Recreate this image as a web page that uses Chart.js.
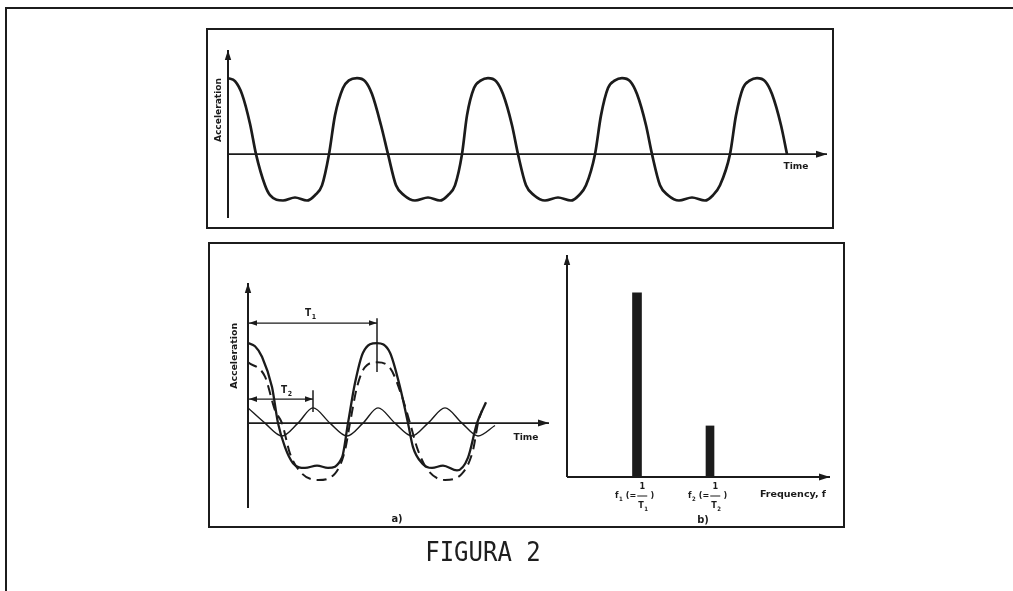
<!DOCTYPE html>
<html>
<head>
<meta charset="utf-8">
<script src="https://cdn.jsdelivr.net/npm/chart.js@4.4.1/dist/chart.umd.min.js"></script>
<style>
  html, body { margin: 0; padding: 0; background: #fff; }
  #stage { position: relative; width: 1013px; height: 591px; overflow: hidden; background: #fff; }
  #stage canvas { position: absolute; left: 0; top: 0; }
  .frame { position: absolute; box-sizing: border-box; border: 2px solid #1c1c1c; }
  #outer { left: 5px; top: 7px; width: 1030px; height: 600px; border-right: none; border-bottom: none; }
  #boxTop { left: 206px; top: 28px; width: 628px; height: 201px; }
  #boxBottom { left: 208px; top: 242px; width: 637px; height: 286px; }
  #figTitle { position: absolute; left: 483px; top: 552px; transform: translate(-50%, -50%) scaleY(1.12);
    font-family: "DejaVu Sans Mono", "Liberation Mono", monospace; font-size: 24px; line-height: 24px; color: #1e1e1e;
    white-space: nowrap; }
</style>
</head>
<body>
<div id="stage">
  <div class="frame" id="outer"></div>
  <div class="frame" id="boxTop"></div>
  <div class="frame" id="boxBottom"></div>
  <canvas id="cTop" width="1013" height="591"></canvas>
  <canvas id="cLeft" width="1013" height="591"></canvas>
  <canvas id="cRight" width="1013" height="591"></canvas>
  <div id="figTitle">FIGURA 2</div>
</div>
<script>
// ---------- Top panel: measured acceleration signal ----------
const topTime = [0,7,14,22,28,37,42,55,67,79,87,94,101,107,115,121,129,
  137,144,153,160,168,176,187,200,212,220,227,234,239,246,253,260,
  268,275,284,290,298,306,317,330,343,351,358,367,373,380,387,394,
  402,409,418,424,432,440,451,464,477,485,492,502,508,515,522,529,
  537,544,553,559];
const topAccel = [1.00,0.96,0.79,0.40,0,-0.41,-0.54,-0.61,-0.57,-0.61,-0.54,-0.41,0,0.51,0.87,0.97,1.00,
  0.96,0.79,0.38,0,-0.41,-0.54,-0.61,-0.57,-0.61,-0.54,-0.41,0,0.51,0.87,0.97,1.00,
  0.96,0.79,0.38,0,-0.41,-0.54,-0.61,-0.57,-0.61,-0.54,-0.41,0,0.51,0.87,0.97,1.00,
  0.96,0.79,0.38,0,-0.41,-0.54,-0.61,-0.57,-0.61,-0.54,-0.41,0,0.51,0.87,0.97,1.00,
  0.96,0.79,0.38,0];

// ---------- Bottom-left panel: decomposition ----------
const sumTime  = [0,7,14,24,30,37,45,57,69,80,94,100,107,115,129,142,152,160,165,174,184,195,209,220,229,238];
const sumAccel = [1.00,0.96,0.83,0.45,0,-0.30,-0.50,-0.56,-0.53,-0.56,-0.43,0,0.50,0.88,1.00,0.88,0.45,0,-0.30,-0.50,-0.56,-0.53,-0.59,-0.43,0,0.26];
const comp1Time  = [0,17,27,34,42,54,70,87,97,102,109,117,129,142,154,162,170,180,197,214,225,230,234];
const comp1Accel = [0.76,0.58,0.16,0,-0.38,-0.63,-0.71,-0.63,-0.34,0,0.45,0.70,0.76,0.69,0.33,0,-0.34,-0.59,-0.71,-0.63,-0.34,0,0.16];
const comp2Time  = [0,17,34,50,65,82,99,115,130,147,164,180,197,214,230,247];
const comp2Accel = [0.19,0,-0.16,0,0.19,0,-0.16,0,0.19,0,-0.16,0,0.19,0,-0.16,-0.03];
const periodT1 = 129;
const periodT2 = 65;

// ---------- Bottom-right panel: spectrum ----------
const freqPositions  = [70, 143];
const freqAmplitudes = [0.83, 0.23];
const freqSubscripts = ['1', '2'];

// ---------- helpers ----------
const INK = '#1b1b1b';
const FONT_FAMILY = '"Liberation Sans Narrow","DejaVu Sans Condensed","Liberation Sans",sans-serif';
function pts(xs, ys) { return xs.map((x, i) => ({ x: x, y: ys[i] })); }

function arrowHead(ctx, x2, y2, ang, len, half) {
  ctx.beginPath();
  ctx.moveTo(x2, y2);
  ctx.lineTo(x2 - len * Math.cos(ang) + half * Math.sin(ang), y2 - len * Math.sin(ang) - half * Math.cos(ang));
  ctx.lineTo(x2 - len * Math.cos(ang) - half * Math.sin(ang), y2 - len * Math.sin(ang) + half * Math.cos(ang));
  ctx.closePath();
  ctx.fill();
}
function arrowLine(ctx, x1, y1, x2, y2, width, len, half, both) {
  ctx.save();
  ctx.strokeStyle = INK; ctx.fillStyle = INK; ctx.lineWidth = width; ctx.lineCap = 'butt';
  const a = Math.atan2(y2 - y1, x2 - x1);
  ctx.beginPath(); ctx.moveTo(x1, y1); ctx.lineTo(x2, y2); ctx.stroke();
  arrowHead(ctx, x2, y2, a, len, half);
  if (both) arrowHead(ctx, x1, y1, a + Math.PI, len, half);
  ctx.restore();
}
function line(ctx, x1, y1, x2, y2, w) {
  ctx.save(); ctx.strokeStyle = INK; ctx.lineWidth = w;
  ctx.beginPath(); ctx.moveTo(x1, y1); ctx.lineTo(x2, y2); ctx.stroke(); ctx.restore();
}
function fitText(ctx, text, x, y, w, size, rotate, align) {
  ctx.save();
  ctx.translate(x, y);
  if (rotate) ctx.rotate(-Math.PI / 2);
  ctx.font = 'bold ' + size + 'px ' + FONT_FAMILY;
  const m = ctx.measureText(text).width;
  if (w) ctx.scale(w / m, 1);
  ctx.fillStyle = INK; ctx.textAlign = align || 'center'; ctx.textBaseline = 'middle';
  ctx.fillText(text, 0, 0);
  ctx.restore();
}
function subText(ctx, main, sub, x, y, size) {
  ctx.save();
  ctx.fillStyle = INK; ctx.textBaseline = 'middle'; ctx.textAlign = 'left';
  ctx.font = 'bold ' + size + 'px ' + FONT_FAMILY;
  ctx.fillText(main, x, y);
  const w1 = ctx.measureText(main).width;
  ctx.font = 'bold ' + Math.round(size * 0.72) + 'px ' + FONT_FAMILY;
  ctx.fillText(sub, x + w1 + 0.5, y + size * 0.35);
  const w2 = ctx.measureText(sub).width;
  ctx.restore();
  return x + w1 + 0.5 + w2;
}

const baseOptions = (pad, xMin, xMax, yMin, yMax) => ({
  responsive: false,
  animation: false,
  devicePixelRatio: 1,
  layout: { padding: pad },
  plugins: { legend: { display: false }, tooltip: { enabled: false }, title: { display: false } },
  events: [],
  scales: {
    x: { type: 'linear', min: xMin, max: xMax, display: false, offset: false },
    y: { type: 'linear', min: yMin, max: yMax, display: false }
  }
});

// ---------- Chart 1: top ----------
const topAxes = {
  id: 'topAxes',
  beforeDatasetsDraw(chart) {
    const ctx = chart.ctx, xs = chart.scales.x, ys = chart.scales.y;
    const x0 = xs.getPixelForValue(0), y0 = ys.getPixelForValue(0);
    arrowLine(ctx, x0, ys.getPixelForValue(ys.min), x0, ys.getPixelForValue(ys.max), 2, 10, 3.2);
    arrowLine(ctx, x0, y0, xs.getPixelForValue(xs.max), y0, 1.8, 11, 3.5);
  },
  afterDatasetsDraw(chart) {
    const ctx = chart.ctx, xs = chart.scales.x, ys = chart.scales.y;
    const x0 = xs.getPixelForValue(0);
    fitText(ctx, 'Acceleration', x0 - 9, ys.getPixelForValue(0.58), 64, 8, true);
    fitText(ctx, 'Time', xs.getPixelForValue(568), ys.getPixelForValue(-0.17), 25, 8.5);
  }
};
new Chart(document.getElementById('cTop'), {
  type: 'line',
  data: { datasets: [{
    data: pts(topTime, topAccel), borderColor: INK, borderWidth: 2.7,
    pointRadius: 0, cubicInterpolationMode: 'monotone', fill: false
  }] },
  options: baseOptions({ left: 228, right: 186, top: 50, bottom: 373 }, 0, 599, -0.84, 1.37),
  plugins: [topAxes]
});

// ---------- Chart 2: bottom-left ----------
const leftAxes = {
  id: 'leftAxes',
  beforeDatasetsDraw(chart) {
    const ctx = chart.ctx, xs = chart.scales.x, ys = chart.scales.y;
    const x0 = xs.getPixelForValue(0), y0 = ys.getPixelForValue(0);
    arrowLine(ctx, x0, ys.getPixelForValue(ys.min), x0, ys.getPixelForValue(ys.max), 2, 10, 3.2);
    arrowLine(ctx, x0, y0, xs.getPixelForValue(xs.max), y0, 1.6, 11, 3.5);
  },
  afterDatasetsDraw(chart) {
    const ctx = chart.ctx, xs = chart.scales.x, ys = chart.scales.y;
    const x0 = xs.getPixelForValue(0);
    const yT1 = ys.getPixelForValue(1.25);
    arrowLine(ctx, x0 + 1, yT1, xs.getPixelForValue(periodT1), yT1, 1.2, 8, 2.8, true);
    line(ctx, xs.getPixelForValue(periodT1), ys.getPixelForValue(1.31), xs.getPixelForValue(periodT1), ys.getPixelForValue(0.64), 1.5);
    const yT2 = ys.getPixelForValue(0.30);
    arrowLine(ctx, x0 + 1, yT2, xs.getPixelForValue(periodT2), yT2, 1.2, 8, 2.8, true);
    line(ctx, xs.getPixelForValue(periodT2), ys.getPixelForValue(0.41), xs.getPixelForValue(periodT2), ys.getPixelForValue(0.14), 1.5);
    subText(ctx, 'T', '1', xs.getPixelForValue(57), ys.getPixelForValue(1.37), 10);
    subText(ctx, 'T', '2', xs.getPixelForValue(33), ys.getPixelForValue(0.41), 10);
    fitText(ctx, 'Acceleration', x0 - 13, ys.getPixelForValue(0.84), 66, 8, true);
    fitText(ctx, 'Time', xs.getPixelForValue(278), ys.getPixelForValue(-0.18), 25, 8.5);
    fitText(ctx, 'a)', xs.getPixelForValue(149), ys.getPixelForValue(-1.06) + 11, 0, 11);
  }
};
new Chart(document.getElementById('cLeft'), {
  type: 'line',
  data: { datasets: [
    { data: pts(sumTime, sumAccel), borderColor: INK, borderWidth: 2.3, pointRadius: 0, cubicInterpolationMode: 'monotone', fill: false },
    { data: pts(comp1Time, comp1Accel), borderColor: INK, borderWidth: 2, borderDash: [10, 6], pointRadius: 0, cubicInterpolationMode: 'monotone', fill: false },
    { data: pts(comp2Time, comp2Accel), borderColor: INK, borderWidth: 1.4, pointRadius: 0, cubicInterpolationMode: 'monotone', fill: false }
  ] },
  options: baseOptions({ left: 248, right: 464, top: 283, bottom: 83 }, 0, 301, -1.06, 1.75),
  plugins: [leftAxes]
});

// ---------- Chart 3: bottom-right spectrum ----------
const rightAxes = {
  id: 'rightAxes',
  afterDatasetsDraw(chart) {
    const ctx = chart.ctx, xs = chart.scales.x, ys = chart.scales.y;
    const x0 = xs.getPixelForValue(0), y0 = ys.getPixelForValue(0);
    arrowLine(ctx, x0, y0, x0, ys.getPixelForValue(ys.max), 2, 10, 3.2);
    arrowLine(ctx, x0, y0, xs.getPixelForValue(xs.max), y0, 2, 11, 3.5);
    const ly = y0 + 19;
    freqPositions.forEach((f, i) => {
      const cx = xs.getPixelForValue(f);
      let x = subText(ctx, 'f', freqSubscripts[i], cx - 22, ly, 9);
      ctx.save();
      ctx.fillStyle = INK; ctx.textBaseline = 'middle'; ctx.textAlign = 'left';
      ctx.font = 'bold 9px ' + FONT_FAMILY;
      ctx.fillText('(=', x + 3, ly);
      x += 3 + ctx.measureText('(=').width + 1;
      ctx.restore();
      const fc = x + 5;
      fitText(ctx, '1', fc, ly - 9, 0, 9);
      line(ctx, fc - 5, ly, fc + 5, ly, 1);
      subText(ctx, 'T', freqSubscripts[i], fc - 4, ly + 10, 9);
      fitText(ctx, ')', fc + 10, ly, 0, 9);
    });
    fitText(ctx, 'Frequency, f', xs.getPixelForValue(193), ly - 1, 66, 9.5, false, 'left');
    fitText(ctx, 'b)', xs.getPixelForValue(136), y0 + 43, 0, 11);
  }
};
new Chart(document.getElementById('cRight'), {
  type: 'bar',
  data: { datasets: [
    { data: [{ x: freqPositions[0], y: freqAmplitudes[0] }], backgroundColor: INK, barThickness: 9, grouped: false },
    { data: [{ x: freqPositions[1], y: freqAmplitudes[1] }], backgroundColor: INK, barThickness: 8, grouped: false }
  ] },
  options: baseOptions({ left: 567, right: 183, top: 255, bottom: 114 }, 0, 263, 0, 1),
  plugins: [rightAxes]
});
</script>
</body>
</html>
